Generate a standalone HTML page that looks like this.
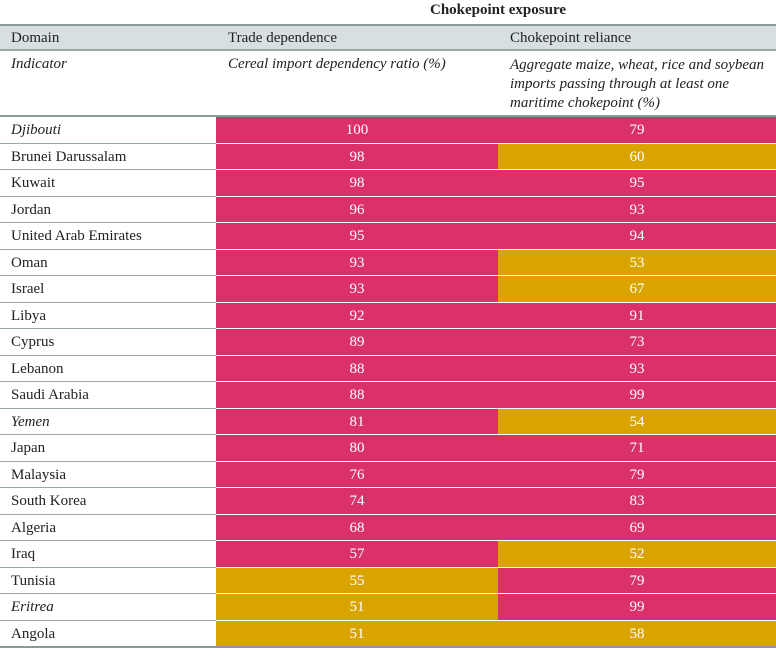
<!DOCTYPE html>
<html><head><meta charset="utf-8">
<style>
body{margin:0;width:776px;height:657px;background:#fff;font-family:"Liberation Serif",serif;position:relative;overflow:hidden}
.a{position:absolute;box-sizing:border-box}
.t{font-size:15px;color:#222;line-height:17px}
.i{font-style:italic}
.c{color:#fff;text-align:center;font-size:15px;line-height:26px}
</style></head><body>
<div class="a t" style="left:498px;top:2px;width:0;"><div style="position:absolute;left:-120px;width:240px;text-align:center;font-weight:bold">Chokepoint exposure</div></div>
<div class="a" style="left:0;top:24px;width:776px;height:27px;background:#d7dfe0;border-top:2px solid #8a9a9a;border-bottom:2px solid #9aa8a8"></div>
<div class="a t" style="left:11px;top:30px">Domain</div>
<div class="a t" style="left:228px;top:30px">Trade dependence</div>
<div class="a t" style="left:510px;top:30px">Chokepoint reliance</div>
<div class="a t i" style="left:11px;top:56px">Indicator</div>
<div class="a t i" style="left:228px;top:56px">Cereal import dependency ratio (%)</div>
<div class="a t i" style="left:510px;top:56px;width:266px;line-height:19px">Aggregate maize, wheat, rice and soybean imports passing through at least one maritime chokepoint (%)</div>
<div class="a" style="left:0;top:115px;width:776px;height:2px;background:#8a9a9a"></div>
<div id="rows"></div>
<script>
const countries=["Djibouti","Brunei Darussalam","Kuwait","Jordan","United Arab Emirates","Oman","Israel","Libya","Cyprus","Lebanon","Saudi Arabia","Yemen","Japan","Malaysia","South Korea","Algeria","Iraq","Tunisia","Eritrea","Angola"];
const italicRows=["Djibouti","Yemen","Eritrea"];
const tradeDependence=[100,98,98,96,95,93,93,92,89,88,88,81,80,76,74,68,57,55,51,51];
const chokepointReliance=[79,60,95,93,94,53,67,91,73,93,99,54,71,79,83,69,52,79,99,58];
const tradeHigh=[1,1,1,1,1,1,1,1,1,1,1,1,1,1,1,1,1,0,0,0];
const chokeHigh=[1,0,1,1,1,0,0,1,1,1,1,0,1,1,1,1,0,1,1,0];
const root=document.getElementById('rows');
const top0=117,rh=26.5,PINK="#db3169",GOLD="#d9a400";
function mk(cls,style,txt){const d=document.createElement('div');d.className='a '+cls;Object.assign(d.style,style);if(txt!==undefined)d.textContent=txt;root.appendChild(d);return d;}
countries.forEach((c,i)=>{
  const y=top0+i*rh;
  const l=mk('t'+(italicRows.includes(c)?' i':''),{left:'11px',top:(y+5)+'px'},c);
  
  
  const ln=mk('',{left:'0',top:(y+rh-1)+'px',width:'216px',height:'1px',background:'#9aa8a8'});
  
  
  const a=mk('c',{left:'216px',top:y+'px',width:'282px',height:(rh-1)+'px',background:tradeHigh[i]?PINK:GOLD},tradeDependence[i]);
  
  
  const b=mk('c',{left:'498px',top:y+'px',width:'278px',height:(rh-1)+'px',background:chokeHigh[i]?PINK:GOLD},chokepointReliance[i]);
  
  
});
const bl=mk('',{left:'0',top:(top0+20*rh-1)+'px',width:'776px',height:'2px',background:'#8a9a9a'});


</script>
</body></html>
